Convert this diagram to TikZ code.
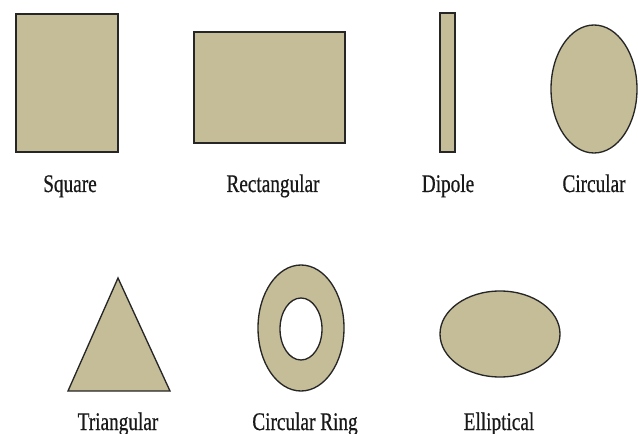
\documentclass[tikz,border=0pt]{standalone}
\usepackage{fontspec}
\newfontfamily\patchfont[FakeStretch=0.76, FakeBold=0.6]{Liberation Serif}
\usepackage{xcolor}
\usepackage{tikz}
\usetikzlibrary{positioning}
\definecolor{patchtan}{RGB}{196,189,151}

\begin{document}
\begin{tikzpicture}[
    x=0.75pt, y=-0.75pt,
    % --- shape / label styles ---
    patch/.style={draw=black!85, fill=patchtan, line width=1pt},
    ring/.style={patch, even odd rule},
    lbl/.style={font=\patchfont\fontsize{19}{22}\selectfont,
        text=black!90, inner sep=0pt, anchor=base}
]
\useasboundingbox (0,0) rectangle (638,434);

%%% ================= ROW 1: PATCHES =================
\filldraw [patch] (16,14) rectangle (118,152);
\filldraw [patch] (194,32) rectangle (345,143);
\filldraw [patch] (440,13) rectangle (455,152);
\filldraw [patch] (594,89) ellipse [x radius=43, y radius=64];

%%% ================= ROW 1: LABELS =================
\node (square) [lbl] at (70,192)  {Square};
\node (rect)   [lbl] at (273,192) {Rectangular};
\node (dipole) [lbl] at (448,192) {Dipole};
\node (circ)   [lbl] at (594,192) {Circular};

%%% ================= ROW 2: PATCHES =================
\filldraw [patch] (118,278) -- (170,391) -- (68,391) -- cycle;
\filldraw [ring] (301,328) ellipse [x radius=43, y radius=63]
                 (301,329) ellipse [x radius=21, y radius=31];
\filldraw [patch] (500,334) ellipse [x radius=60, y radius=43];

%%% ================= ROW 2: LABELS =================
\node (tri)   [lbl] at (118,430) {Triangular};
\node (cring) [lbl] at (305,430) {Circular Ring};
\node (ell)   [lbl] at (499,430) {Elliptical};

\end{tikzpicture}
\end{document}
